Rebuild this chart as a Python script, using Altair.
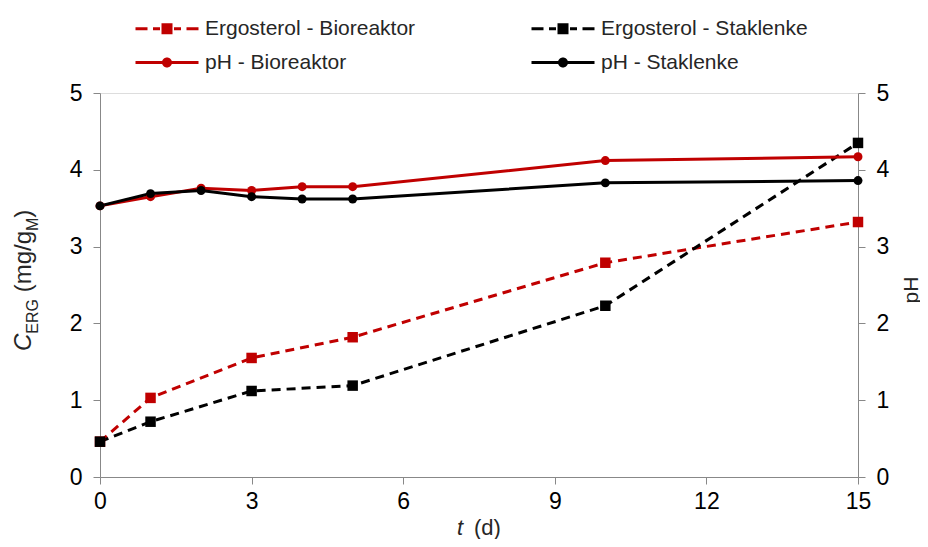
import altair as alt
import pandas as pd

# ---- data ----
t_erg = [0, 1, 3, 5, 10, 15]
erg_bio = [0.46, 1.03, 1.55, 1.82, 2.79, 3.32]
erg_stak = [0.46, 0.72, 1.12, 1.19, 2.23, 4.35]
t_ph = [0, 1, 2, 3, 4, 5, 10, 15]
ph_bio = [3.53, 3.65, 3.76, 3.73, 3.78, 3.78, 4.12, 4.17]
ph_stak = [3.53, 3.69, 3.73, 3.65, 3.62, 3.62, 3.83, 3.86]
series = ["Ergosterol - Bioreaktor", "Ergosterol - Staklenke", "pH - Bioreaktor", "pH - Staklenke"]
colors = ["#C00000", "#000000", "#C00000", "#000000"]
x_ticks = [0, 3, 6, 9, 12, 15]
y_ticks = [0, 1, 2, 3, 4, 5]

erg_df = pd.DataFrame({
    "t": t_erg + t_erg,
    "v": erg_bio + erg_stak,
    "s": [series[0]] * len(t_erg) + [series[1]] * len(t_erg),
})
ph_df = pd.DataFrame({
    "t": t_ph + t_ph,
    "v": ph_bio + ph_stak,
    "s": [series[2]] * len(t_ph) + [series[3]] * len(t_ph),
})

FONT = "Liberation Sans"
AX = "#7f7f7f"
TXT = "#262626"
W, H = 758, 384

x_enc = alt.X("t:Q", scale=alt.Scale(domain=[0, 15], nice=False, zero=False),
              axis=alt.Axis(values=x_ticks, title=None, grid=False, labelFontSize=23,
                            labelPadding=6, tickSize=7, labelFlush=False))
color_scale = alt.Scale(domain=series, range=colors)

def y_enc(orient):
    return alt.Y("v:Q", scale=alt.Scale(domain=[0, 5], nice=False),
                 axis=alt.Axis(orient=orient, values=y_ticks, title=None, grid=False,
                               labelFontSize=23, labelPadding=11, tickSize=7, labelFlush=False))

# legend symbols: line + marker glyphs (unit = 5 px at symbolSize 100)
dash_path = ("M-1,-0.3H1.4V0.3H-1Z M2.5,-0.3H3.9V0.3H2.5Z M4.2,-1.1H6.4V1.1H4.2Z "
             "M6.7,-0.3H8.1V0.3H6.7Z M9.2,-0.3H11.6V0.3H9.2Z")
solid_path = "M-1,-0.3H11.6V0.3H-1Z M4.3,0A1,1 0 1,1 6.3,0A1,1 0 1,1 4.3,0Z"

def leg():
    return alt.Legend(title=None, orient="none", legendX=30, legendY=-75, columns=2,
                      direction="horizontal",
                      symbolSize=100, symbolStrokeWidth=0, symbolOffset=0,
                      labelFontSize=21, labelFont=FONT, labelColor=TXT, labelOffset=54,
                      labelLimit=500, columnPadding=110, rowPadding=12, padding=0)

legend_layer = alt.Chart(erg_df).transform_filter("false").mark_point(
    filled=True, size=100, opacity=1, strokeWidth=0).encode(
    x=x_enc, y=y_enc("left"),
    color=alt.Color("s:N", scale=color_scale, legend=leg()),
    shape=alt.Shape("s:N", scale=alt.Scale(domain=series,
                    range=[dash_path, dash_path, solid_path, solid_path]), legend=leg()),
)

# Ergosterol (left axis)
erg_line = alt.Chart(erg_df).mark_line(strokeWidth=3, strokeDash=[9, 6]).encode(
    x=x_enc, y=y_enc("left"), color=alt.Color("s:N", scale=color_scale, legend=None), detail="s:N")
erg_pts = alt.Chart(erg_df).mark_point(shape="square", filled=True, size=110, opacity=1).encode(
    x=x_enc, y=y_enc("left"), color=alt.Color("s:N", scale=color_scale, legend=None))
erg_layer = alt.layer(legend_layer, erg_line, erg_pts)

# pH (right axis)
ph_line = alt.Chart(ph_df).mark_line(strokeWidth=3).encode(
    x=x_enc, y=y_enc("right"), color=alt.Color("s:N", scale=color_scale, legend=None), detail="s:N")
ph_pts = alt.Chart(ph_df).mark_point(shape="circle", filled=True, size=80, opacity=1).encode(
    x=x_enc, y=y_enc("right"), color=alt.Color("s:N", scale=color_scale, legend=None))
ph_layer = alt.layer(ph_line, ph_pts)

# axis titles as text pieces (sub-scripts)
def txt(text, x, y, size, angle=0, style="normal", align="left", baseline="alphabetic"):
    return alt.Chart(alt.Data(values=[{}])).mark_text(
        text=text, fontSize=size, font=FONT, angle=angle, fontStyle=style,
        align=align, baseline=baseline, color=TXT).encode(x=alt.value(x), y=alt.value(y))

bx, sx = -69, -62
texts = [
    txt("C", bx, 258, 24, angle=270, style="italic"),
    txt("ERG", sx, 240.7, 16, angle=270),
    txt("(mg/g", bx, 199.3, 24, angle=270),
    txt("M", sx, 138.0, 16, angle=270),
    txt(")", bx, 124.7, 24, angle=270),
    txt("pH", 811.5, 197, 21, angle=270, align="center", baseline="middle"),
    txt("t", 357, 442, 22, style="italic"),
    txt("(d)", 374, 442, 22),
]

chart = alt.layer(erg_layer, ph_layer, *texts).resolve_scale(y="independent").properties(
    width=W, height=H,
    padding={"left": 92, "top": 85, "right": 62, "bottom": 62},
    autosize=alt.AutoSizeParams(type="none"),
).configure_view(stroke=None).configure_axis(
    domainColor=AX, tickColor=AX, domainWidth=2, tickWidth=2,
    labelFont=FONT, labelColor=TXT,
).configure(background="white")

chart.save("out.html", embed_options={"renderer": "svg", "actions": False})
